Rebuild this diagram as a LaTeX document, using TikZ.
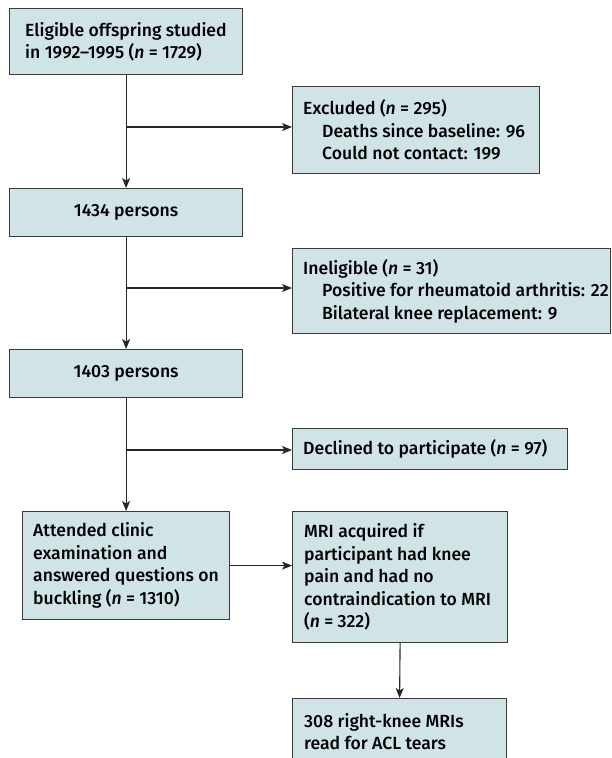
\documentclass[tikz,border=0pt]{standalone}
\usepackage{fontspec}
\setmainfont{Fira Sans}[UprightFont={* Medium}, ItalicFont={* Medium Italic}]
\usetikzlibrary{arrows.meta}
\definecolor{boxfill}{HTML}{D0E3E7}
\definecolor{boxline}{HTML}{3A3A3A}
\begin{document}
\begin{tikzpicture}[x=1pt,y=-1pt,
  box/.style={draw=boxline, fill=boxfill, line width=1.2pt, anchor=north west,
    inner sep=0pt},
  txt/.style={anchor=west, align=left, inner sep=0pt, font=\fontsize{17.6}{22.5}\selectfont},
  arr/.style={line width=1.1pt, draw=black!85, -{Stealth[length=10pt,width=8pt,inset=2.5pt]}}]
\useasboundingbox (0,0) rectangle (612,758);
\clip (0,0) rectangle (612,758);
% boxes
\node[box, minimum width=233pt, minimum height=66pt] (b1) at (9,8) {};
\node[box, minimum width=247pt, minimum height=87pt] (ex) at (292,86) {};
\node[box, minimum width=233pt, minimum height=48pt] (b2) at (9,188) {};
\node[box, minimum width=318pt, minimum height=85pt] (in) at (292,248) {};
\node[box, minimum width=233pt, minimum height=48pt] (b3) at (9,349) {};
\node[box, minimum width=275pt, minimum height=41pt] (de) at (292,428) {};
\node[box, minimum width=207pt, minimum height=108pt] (at) at (22,511) {};
\node[box, minimum width=215pt, minimum height=131pt] (mri) at (292,511) {};
\node[box, minimum width=214pt, minimum height=92pt] (fin) at (292,698) {};
% texts
\node[txt] (t1) at ([xshift=16pt]b1.west) {Eligible offspring studied\\in 1992--1995 (\textit{n} = 1729)};
\node[txt] (t2) at ([xshift=11pt]ex.west) {Excluded (\textit{n} = 295)\\\hspace*{19pt}Deaths since baseline: 96\\\hspace*{19pt}Could not contact: 199};
\node[txt, anchor=center] (t3) at (b2.center) {1434 persons};
\node[txt] (t4) at ([xshift=11pt]in.west) {Ineligible (\textit{n} = 31)\\\hspace*{19pt}Positive for rheumatoid arthritis: 22\\\hspace*{19pt}Bilateral knee replacement: 9};
\node[txt, anchor=center] (t5) at (b3.center) {1403 persons};
\node[txt] (t6) at ([xshift=11pt]de.west) {Declined to participate (\textit{n} = 97)};
\node[txt] (t7) at ([xshift=11pt]at.west) {Attended clinic\\examination and\\answered questions on\\buckling (\textit{n} = 1310)};
\node[txt] (t8) at ([xshift=12pt]mri.west) {MRI acquired if\\participant had knee\\pain and had no\\contraindication to MRI\\(\textit{n} = 322)};
\node[txt, anchor=north west] (t9) at ([xshift=12pt,yshift=-15pt]fin.north west) {308 right-knee MRIs\\read for ACL tears};
% connectors
\coordinate (j1) at (b1.south |- 0,127);
\coordinate (j2) at (b2.south |- 0,288);
\coordinate (j3) at (b3.south |- 0,450);
\draw[arr] (b1.south) -- (b2.north);
\draw[arr] (j1) -- (j1 -| ex.west);
\draw[arr] (b2.south) -- (b3.north);
\draw[arr] (j2) -- (j2 -| in.west);
\draw[arr] (b3.south) -- (at.north);
\draw[arr] (j3) -- (j3 -| de.west);
\draw[arr] (at.east) -- (at.east -| mri.west);
\draw[arr] (mri.south) -- (fin.north);
\end{tikzpicture}
\end{document}
